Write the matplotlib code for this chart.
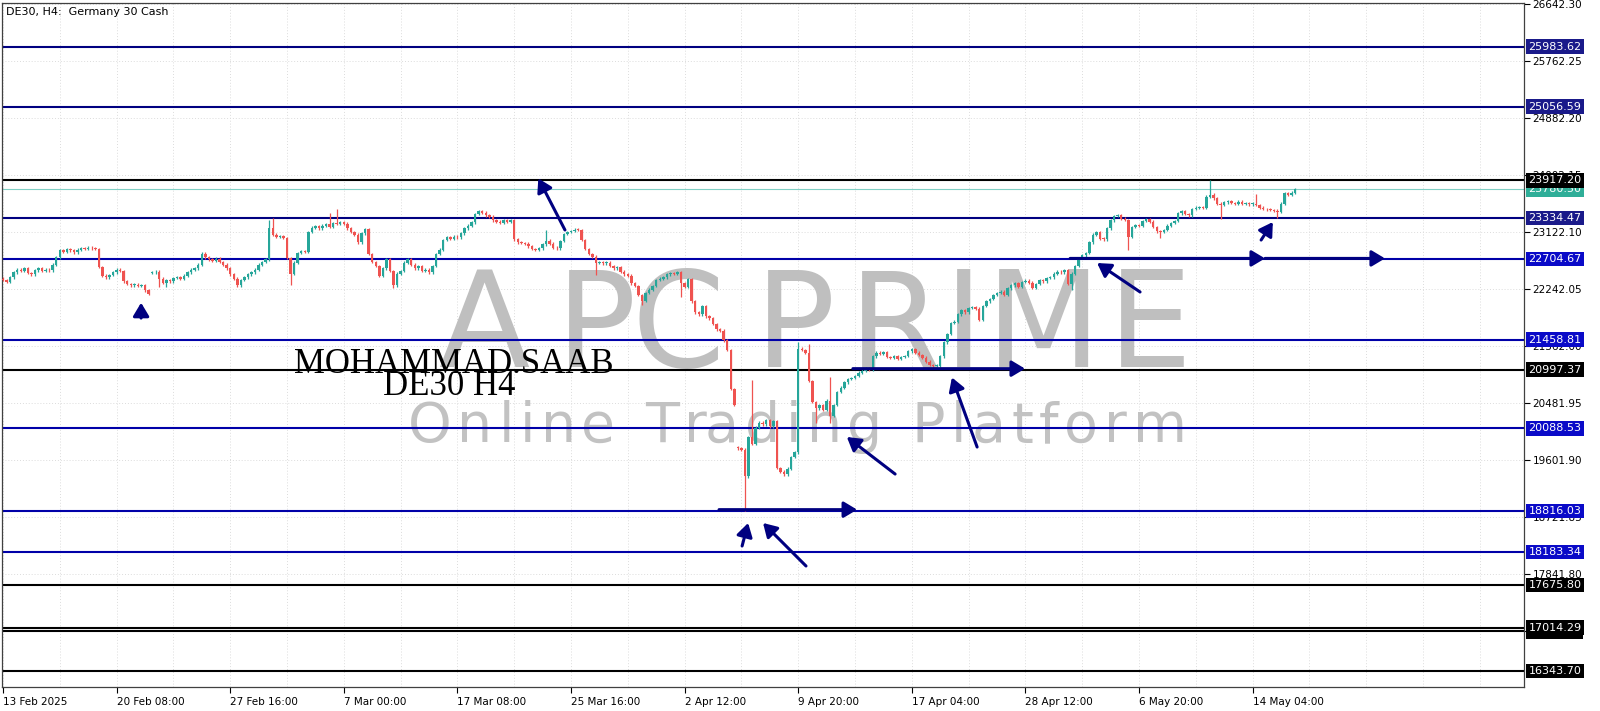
import matplotlib
matplotlib.use('Agg')
import matplotlib.pyplot as plt
from matplotlib.font_manager import FontProperties

# ---------------- data ----------------
closes = [
    22380, 22350, 22420, 22500, 22540, 22520, 22560, 22490, 22470, 22530,
    22560, 22520, 22540, 22530, 22620, 22730, 22840, 22820, 22860, 22840,
    22810, 22850, 22870, 22860, 22880, 22870, 22860, 22580, 22450, 22420,
    22460, 22500, 22540, 22520, 22360, 22320, 22300, 22310, 22290, 22300,
    22220, 22170, 22500, 22510, 22400, 22340, 22380, 22360, 22410, 22420,
    22400, 22450, 22500, 22540, 22560, 22620, 22790, 22730, 22700, 22680,
    22710, 22660, 22620, 22560, 22470, 22400, 22300, 22380, 22420, 22470,
    22500, 22540, 22620, 22660, 22700, 23180, 23080, 23050, 23060, 23030,
    22720, 22480, 22650, 22800, 22830, 22820, 23120, 23190, 23210, 23180,
    23220, 23240, 23200, 23260, 23250, 23270, 23250, 23180, 23120, 23080,
    22960, 23100, 23170, 22780, 22660, 22600, 22450, 22560, 22700, 22520,
    22300, 22480, 22520, 22650, 22700, 22620, 22560, 22600, 22520, 22540,
    22500, 22600, 22780, 22850, 23000, 23040, 23020, 23050, 23040, 23100,
    23180, 23220, 23270, 23400, 23440, 23420, 23380, 23360, 23300, 23280,
    23260, 23300, 23280, 23310, 23010, 22960, 22950, 22940, 22900, 22860,
    22850, 22870, 22930, 22990, 22940, 22880, 22870, 22980, 23090, 23120,
    23140, 23160, 23150, 23000, 22860, 22780, 22740, 22650, 22660, 22640,
    22650, 22600, 22560, 22580, 22510, 22470, 22450, 22330, 22290, 22150,
    22060, 22180, 22230, 22290, 22380, 22400, 22420, 22470, 22490, 22480,
    22500, 22330, 22270, 22390, 22050, 21880, 21850, 21980, 21820, 21790,
    21700, 21620, 21600, 21450, 21300, 20700, 20450, 19780, 19760, 19350,
    19950, 19850, 20100, 20180, 20150, 20220, 20120, 20200, 19480, 19420,
    19380, 19470, 19650, 19720, 21320, 21300, 21260, 20820, 20500, 20400,
    20450, 20380, 20520, 20280, 20450, 20650, 20720, 20800, 20850, 20870,
    20900, 20950, 20980, 21010, 21000, 21200, 21260, 21240, 21270, 21190,
    21180, 21200, 21160, 21190, 21210, 21280, 21310, 21260, 21220, 21180,
    21120, 21070, 21050, 21060, 21200, 21420, 21550, 21720, 21740, 21850,
    21920, 21880, 21950, 21960, 21940, 21770, 21980, 22050, 22090, 22150,
    22180, 22200, 22150, 22250, 22300, 22330, 22280, 22350, 22370, 22340,
    22260, 22320, 22380, 22360, 22410, 22420, 22480, 22510, 22500, 22530,
    22320, 22480, 22600, 22720, 22760, 22800, 22960, 23080, 23120, 23020,
    23010, 23180, 23300, 23370, 23380, 23330, 23310, 23050, 23200, 23230,
    23220, 23290, 23320, 23280, 23200, 23130, 23120, 23150, 23220, 23260,
    23290, 23410, 23440, 23400, 23380, 23480, 23500, 23510, 23500, 23670,
    23700, 23640, 23560, 23540, 23580, 23600, 23570, 23560, 23590, 23560,
    23570, 23550, 23560, 23540, 23500, 23480, 23470, 23460, 23450, 23430,
    23560, 23720, 23700, 23730, 23780.5,
]
first_open = 22400
gap_opens = {42: 22490, 207: 19800}
wick_highs = {75: 23307, 76: 23338, 92: 23420, 94: 23470, 153: 23150, 211: 20837,
              224: 21430, 227: 21400, 233: 20880, 340: 23917.2, 353: 23710}
wick_lows = {41: 22150, 44: 22270, 46: 22270, 66: 22270, 81: 22300, 110: 22257,
             167: 22458, 180: 21995, 191: 22120, 209: 18816.03, 229: 20170,
             233: 20170, 301: 22226, 317: 22840, 326: 23030, 343: 23330, 359: 23340}

level_prices = [25983.62, 25056.59, 23780.50, 23917.20, 23334.47, 22704.67, 21458.81,
                20997.37, 20088.53, 18816.03, 18183.34, 17675.80, 16955.00, 17014.29, 16343.70]
level_kinds = ['navy', 'navy', 'bid', 'black', 'navy', 'blue', 'blue',
               'black', 'blue', 'blue', 'blue', 'black', 'black', 'black', 'black']

ytick_values = [26642.30, 25762.25, 24882.20, 24002.15, 23122.10, 22242.05, 21362.00,
                20481.95, 19601.90, 18721.85, 17841.80, 16961.75]
xtick_bars = [0, 32, 64, 96, 128, 160, 192, 224, 256, 288, 320, 352]
xtick_labels = ['13 Feb 2025', '20 Feb 08:00', '27 Feb 16:00', '7 Mar 00:00', '17 Mar 08:00',
                '25 Mar 16:00', '2 Apr 12:00', '9 Apr 20:00', '17 Apr 04:00', '28 Apr 12:00',
                '6 May 20:00', '14 May 04:00']

# annotation arrows: (bar_from, price_from, bar_to, price_to)
arrows = [
    (38.9, 21793, 38.9, 22030),
    (158.3, 23153, 150.8, 23950),
    (201.7, 18835, 240.6, 18835),
    (208.2, 18274, 209.9, 18629),
    (226.2, 17965, 214.1, 18629),
    (251.3, 19385, 237.7, 19957),
    (239.4, 21012, 287.9, 21012),
    (274.4, 19802, 267.3, 20876),
    (320.3, 22196, 308.2, 22643),
    (300.6, 22714, 355.5, 22714),
    (355.5, 22714, 389.3, 22714),
    (354.4, 22998, 357.7, 23276),
]

# ---------------- styles ----------------
UP = '#26A69A'
DN = '#EF5350'
NAVY = '#000080'
W, H = 1600, 711
line_style = {
    'navy': dict(color='#000080', lw=1.5, bg='#1A1A8A'),
    'blue': dict(color='#0000A8', lw=1.5, bg='#0A0AC8'),
    'black': dict(color='#000000', lw=1.5, bg='#000000'),
    'bid': dict(color='#80CFC4', lw=0.8, bg='#2FAE98'),
}

fig = plt.figure(figsize=(16, 7.11), dpi=100)
ax = fig.add_axes([2 / W, 24 / H, 1522 / W, 684 / H])
ax.set_xlim(-0.28, 428.45)
ax.set_ylim(16096.8, 26657.7)

n = len(closes)
xs = list(range(n))
opens = [first_open] + closes[:-1]
for k, v in gap_opens.items():
    opens[k] = v
highs = [max(o, c) + 20 for o, c in zip(opens, closes)]
lows = [min(o, c) - 20 for o, c in zip(opens, closes)]
for k, v in wick_highs.items():
    highs[k] = v
for k, v in wick_lows.items():
    lows[k] = v
cols = [UP if c >= o else DN for o, c in zip(opens, closes)]
bottoms = [min(o, c) for o, c in zip(opens, closes)]
heights = [max(abs(c - o), 12) for o, c in zip(opens, closes)]

ax.vlines(xs, lows, highs, colors=cols, lw=0.9, zorder=3)
ax.bar(xs, heights, bottom=bottoms, width=0.7, color=cols, linewidth=0, zorder=3)

# grid
for b in range(0, 430, 16):
    ax.axvline(b, color='#dcdcdc', lw=0.7, ls=(0, (1, 2)), zorder=0.5)
for v in ytick_values:
    ax.axhline(v, color='#dcdcdc', lw=0.7, ls=(0, (1, 2)), zorder=0.5)

# levels
for p, kind in zip(level_prices, level_kinds):
    st = line_style[kind]
    ax.axhline(p, color=st['color'], lw=st['lw'], zorder=2)
    ax.annotate(f'{p:.2f}', xy=(1, p), xycoords=('axes fraction', 'data'),
                xytext=(3.2, 0), textcoords='offset points', va='center', ha='left',
                fontsize=8, color='white', zorder=10, annotation_clip=False,
                bbox=dict(boxstyle='square,pad=0.2', fc=st['bg'], ec='none'))

# arrows
for x0, y0, x1, y1 in arrows:
    ax.annotate('', xy=(x1, y1), xytext=(x0, y0),
                arrowprops=dict(arrowstyle='-|>,head_length=0.5,head_width=0.3',
                                color=NAVY, lw=2.2, mutation_scale=16,
                                shrinkA=0, shrinkB=0), zorder=4)

# watermark (letters placed individually, pixel positions)
wm_letters = ['A', 'P', 'C', 'P', 'R', 'I', 'M', 'E']
wm_centers = [485, 596, 678, 795, 895, 964, 1043, 1150]
for ch, cx in zip(wm_letters, wm_centers):
    ax.text(cx / W, 1 - 367 / H, ch, transform=fig.transFigure,
            fontsize=96, color='#bfbfbf', ha='center', va='baseline',
            family='DejaVu Sans', zorder=1)

renderer = fig.canvas.get_renderer()
fp_sub = FontProperties(family='DejaVu Sans', size=40)


def text_w(s):
    wd, _, _ = renderer.get_text_width_height_descent(s + 'I', fp_sub, ismath=False)
    wi, _, _ = renderer.get_text_width_height_descent('I', fp_sub, ismath=False)
    return wd - wi


sub = 'Online Trading Platform'
track = 5.7
x0 = 408
for k, ch in enumerate(sub):
    if ch == ' ':
        continue
    xp = x0 + text_w(sub[:k]) + k * track
    ax.text(xp / W, 1 - 442 / H, ch, transform=fig.transFigure, fontproperties=fp_sub,
            color='#c2c2c2', ha='left', va='baseline', zorder=1)

ax.text(294 / W, 1 - 373 / H, 'MOHAMMAD.SAAB', transform=fig.transFigure,
        fontsize=25, color='black', ha='left', va='baseline',
        family='Liberation Serif', zorder=5)
ax.text(383 / W, 1 - 395 / H, 'DE30 H4', transform=fig.transFigure,
        fontsize=25, color='black', ha='left', va='baseline',
        family='Liberation Serif', zorder=5)

fig.text(6 / W, 1 - 15 / H, 'DE30, H4:  Germany 30 Cash', fontsize=8,
         color='black', ha='left', va='baseline')

# axes
ax.yaxis.tick_right()
ax.set_yticks(ytick_values)
ax.set_yticklabels([f'{v:.2f}' for v in ytick_values])
ax.set_xticks(xtick_bars)
ax.set_xticklabels(xtick_labels, ha='left')
ax.tick_params(axis='y', direction='out', length=4, width=0.8, pad=2, labelsize=7.5)
ax.tick_params(axis='x', direction='out', length=4, width=0.8, pad=3, labelsize=7.5)
for s in ax.spines.values():
    s.set_linewidth(0.9)
    s.set_color('#404040')

fig.savefig('out.png', dpi=100, facecolor='white')
